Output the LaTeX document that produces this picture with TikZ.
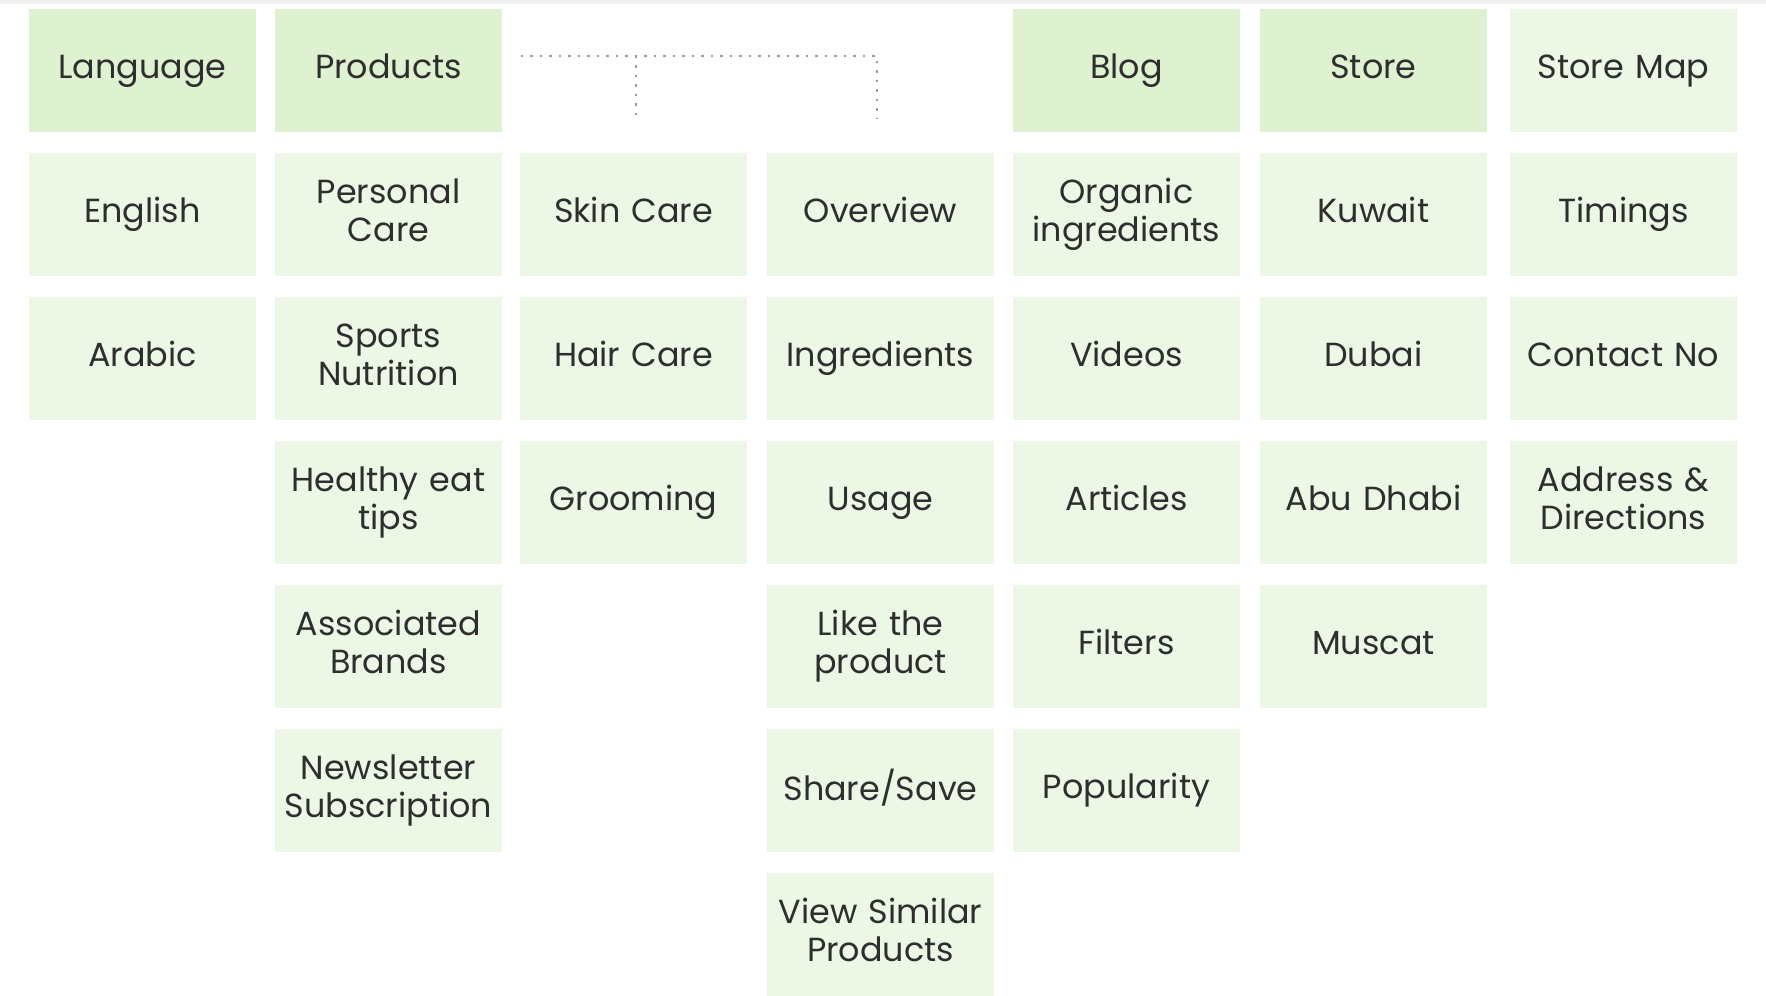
\documentclass[tikz,border=0pt]{standalone}
\usepackage{fontspec}
\setmainfont{Poppins}
\usetikzlibrary{positioning}
\definecolor{headgreen}{HTML}{DEF1D0}
\definecolor{cellgreen}{HTML}{ECF7E5}
\definecolor{textgray}{HTML}{2E2E2E}
\definecolor{dotgray}{HTML}{9A9A9A}
\definecolor{stripgray}{HTML}{F0F0F0}

\begin{document}
\begin{tikzpicture}[
    cell/.style={fill=#1, text=textgray, align=center, font=\fontsize{9.5}{10.8}\selectfont,
                 inner sep=1pt, outer sep=0pt, minimum width=22.5mm, minimum height=12.3mm, text width=22mm,
                 execute at begin node=\strut, execute at end node=\strut},
    cell/.default=cellgreen,
    head/.style={cell=headgreen},
    link/.style={draw=dotgray, dotted, line width=0.7pt},
    node distance=2.1mm,
]
  % ---------------- canvas ----------------
  \useasboundingbox[fill=white] (0,0) rectangle (17.66,-9.96);
  \fill[stripgray] (0,0) rectangle (17.66,-0.045);

  % ---------------- top row ----------------
  \node[head] (lang)  at (1.425,-0.705)  {Language};
  \node[head] (prod)  at (3.885,-0.705)  {Products};
  \node[head] (blog)  at (11.265,-0.705) {Blog};
  \node[head] (store) at (13.735,-0.705) {Store};
  \node[cell] (map)   at (16.235,-0.705) {Store Map};

  % ---------------- language ----------------
  \node[cell, below=of lang] (eng) {English};
  \node[cell, below=of eng]  (ara) {Arabic};

  % ---------------- products ----------------
  \node[cell, below=of prod]    (pcare)  {Personal\\Care};
  \node[cell, below=of pcare]   (sport)  {Sports\\Nutrition};
  \node[cell, below=of sport]   (tips)   {Healthy eat\\tips};
  \node[cell, below=of tips]    (brands) {Associated\\Brands};
  \node[cell, below=of brands]  (news)   {Newsletter\\Subscription};

  % ---------------- categories ----------------
  \node[cell] (skin) at (6.335,-2.145) {Skin Care};
  \node[cell, below=of skin] (hair) {Hair Care};
  \node[cell, below=of hair] (groom) {Grooming};

  % ---------------- product page ----------------
  \node[cell] (over) at (8.805,-2.145) {Overview};
  \node[cell, below=of over]  (ingr)  {Ingredients};
  \node[cell, below=of ingr]  (usage) {Usage};
  \node[cell, below=of usage] (like)  {Like the\\product};
  \node[cell, below=of like]  (share) {Share/Save};
  \node[cell, below=of share] (similar) {View Similar\\Products};

  % ---------------- blog ----------------
  \node[cell, below=of blog]  (organic) {Organic\\ingredients};
  \node[cell, below=of organic] (videos) {Videos};
  \node[cell, below=of videos]  (arts)   {Articles};
  \node[cell, below=of arts]    (filt)   {Filters};
  \node[cell, below=of filt]    (pop)    {Popularity};

  % ---------------- store ----------------
  \node[cell, below=of store] (kuw) {Kuwait};
  \node[cell, below=of kuw]   (dub) {Dubai};
  \node[cell, below=of dub]   (abu) {Abu Dhabi};
  \node[cell, below=of abu]   (mus) {Muscat};

  % ---------------- store map ----------------
  \node[cell, below=of map]   (time) {Timings};
  \node[cell, below=of time]  (phone) {Contact No};
  \node[cell, below=of phone] (addr) {Address \&\\Directions};

  % ---------------- dotted bracket ----------------
  \coordinate (brL) at (5.21,-0.56);
  \coordinate (brM) at (6.36,-0.56);
  \coordinate (brR) at (8.77,-0.56);
  \coordinate (brMend) at (6.36,-1.18);
  \coordinate (brRend) at (8.77,-1.18);
  \draw[link] (brL) -- (brR) -- (brRend);
  \draw[link] (brM) -- (brMend);
\end{tikzpicture}
\end{document}
